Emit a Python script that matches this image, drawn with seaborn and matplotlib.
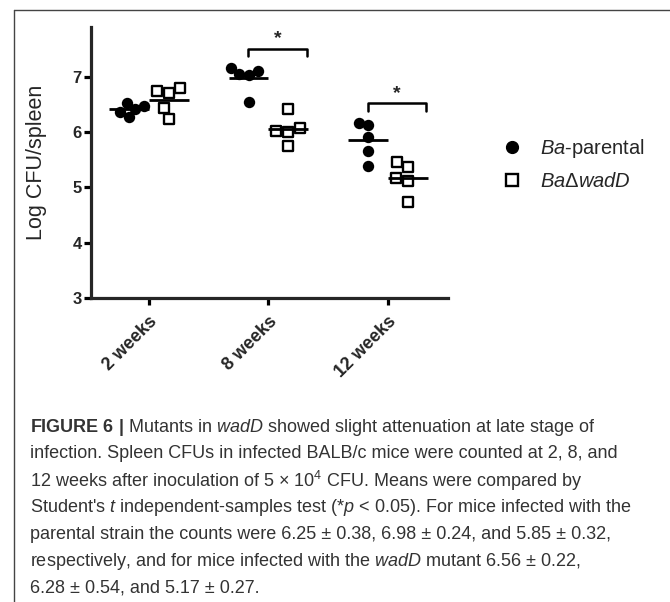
import numpy as np
import pandas as pd
import matplotlib
matplotlib.use("Agg")
import matplotlib.pyplot as plt
from matplotlib.lines import Line2D
import seaborn as sns

# log CFU per spleen
weeks = ["2 weeks", "8 weeks", "12 weeks"]
parental_2 = [6.48, 6.53, 6.28, 6.37, 6.42]
parental_8 = [7.16, 7.05, 7.04, 7.11, 6.55]
parental_12 = [6.13, 6.17, 5.91, 5.66, 5.39]
mutant_2 = [6.75, 6.71, 6.80, 6.44, 6.24]
mutant_8 = [6.42, 6.02, 6.00, 5.75, 6.08]
mutant_12 = [5.46, 5.37, 5.17, 5.12, 4.74]
significant = ["8 weeks", "12 weeks"]

parental = [parental_2, parental_8, parental_12]
mutant = [mutant_2, mutant_8, mutant_12]

rows = []
for i, w in enumerate(weeks):
    for v in parental[i]:
        rows.append({"week": w, "idx": i, "strain": "parental", "cfu": v})
    for v in mutant[i]:
        rows.append({"week": w, "idx": i, "strain": "mutant", "cfu": v})
df = pd.DataFrame(rows)

shift = 1 / 6
df["pos"] = df["idx"] + np.where(df["strain"] == "parental", -shift, shift)

sns.set_style("ticks")
plt.rcParams["font.family"] = ["Liberation Sans", "DejaVu Sans"]
plt.rcParams["mathtext.fontset"] = "custom"
plt.rcParams["mathtext.rm"] = "Liberation Sans"
plt.rcParams["mathtext.it"] = "Liberation Sans:italic"
plt.rcParams["mathtext.bf"] = "Liberation Sans:bold"

fig = plt.figure(figsize=(6.7, 6.02), dpi=100)
ax = fig.add_axes([91 / 670, 1 - 298 / 602, 357 / 670, 271 / 602])

# swarm laid out with slightly smaller markers so the points overlap a bit
sns.swarmplot(data=df[df["strain"] == "parental"], x="pos", y="cfu", native_scale=True,
              color="black", marker="o", size=6.8, linewidth=0, ax=ax, zorder=3)
n_par = len(ax.collections)
sns.swarmplot(data=df[df["strain"] == "mutant"], x="pos", y="cfu", native_scale=True,
              color="white", marker="s", size=6.8, edgecolor="black", linewidth=1.7,
              ax=ax, zorder=3)
ax.set_xlim(-0.483, 2.5)
ax.set_ylim(3, 7.9)
fig.canvas.draw()
for k, coll in enumerate(list(ax.collections)):
    if "draw" in coll.__dict__:
        del coll.draw
    coll.set_sizes([(8.2 if k < n_par else 7.8) ** 2])

# mean lines
means = df.groupby(["idx", "strain"])["cfu"].mean()
for (i, strain), m in means.items():
    c = i - shift if strain == "parental" else i + shift
    ax.plot([c - shift, c + shift], [m, m], color="black", lw=2, zorder=4,
            solid_capstyle="butt")

# significance brackets
for w in significant:
    i = weeks.index(w)
    top = max(parental[i]) + 0.35
    x0, x1 = i - 0.17, i + 0.32
    ax.plot([x0, x0, x1, x1], [top - 0.14, top, top, top - 0.14], color="black",
            lw=1.8, zorder=4)
    ax.text((x0 + x1) / 2, top + 0.02, "*", ha="center", va="bottom",
            fontsize=14, fontweight="bold")

ax.set_xlim(-0.483, 2.5)
ax.set_ylim(3, 7.9)
ax.set_yticks([3, 4, 5, 6, 7])
ax.set_xticks(range(len(weeks)))
ax.set_xticklabels(weeks, rotation=45, ha="right", rotation_mode="anchor",
                   fontsize=13, fontweight="bold")
for lab in ax.get_yticklabels():
    lab.set_fontsize(12)
    lab.set_fontweight("bold")
ax.set_xlabel("")
ax.set_ylabel("Log CFU/spleen", fontsize=15.5)
ax.yaxis.set_label_coords(-0.123, 0.5)
sns.despine(ax=ax)
for s in ["left", "bottom"]:
    ax.spines[s].set_linewidth(2.3)
ax.tick_params(width=2.3, length=5, pad=1.5, color="black")
ax.tick_params(axis="x", pad=6)

handles = [
    Line2D([], [], marker="o", ls="none", color="black", markersize=8.5),
    Line2D([], [], marker="s", ls="none", markerfacecolor="white",
           markeredgecolor="black", markeredgewidth=1.7, markersize=8.5),
]
labels = [r"$\it{Ba}$-parental", r"$\it{Ba}$" + "\u0394" + r"$\it{wadD}$"]
fig.legend(handles, labels, loc="upper left", bbox_to_anchor=(500 / 670, 1 - 137 / 602),
           frameon=False, fontsize=14.5, handlelength=1.2, handletextpad=0.8,
           labelspacing=0.62, borderaxespad=0, borderpad=0)

# frame of the figure panel
fig.add_artist(Line2D([14 / 670, 1], [1 - 10 / 602, 1 - 10 / 602],
                      transform=fig.transFigure, color="#444444", lw=1))
fig.add_artist(Line2D([14 / 670, 14 / 670], [0, 1 - 10 / 602],
                      transform=fig.transFigure, color="#444444", lw=1))

caption = [
    r"$\bf{FIGURE\ 6\ |}$ Mutants in $\it{wadD}$ showed slight attenuation at late stage of",
    "infection. Spleen CFUs in infected BALB/c mice were counted at 2, 8, and",
    "12 weeks after inoculation of 5 \u00d7 10$^4$ CFU. Means were compared by",
    r"Student's $\it{t}$ independent-samples test (*$\it{p}$ < 0.05). For mice infected with the",
    "parental strain the counts were 6.25 \u00b1 0.38, 6.98 \u00b1 0.24, and 5.85 \u00b1 0.32,",
    r"respectively, and for mice infected with the $\it{wadD}$ mutant 6.56 " + "\u00b1 0.22,",
    "6.28 \u00b1 0.54, and 5.17 \u00b1 0.27.",
]
for k, line in enumerate(caption):
    fig.text(30 / 670, 1 - (427 + 26.8 * k) / 602, line, ha="left", va="center",
             fontsize=13, color="#333333")

fig.savefig("out.png", dpi=100)
